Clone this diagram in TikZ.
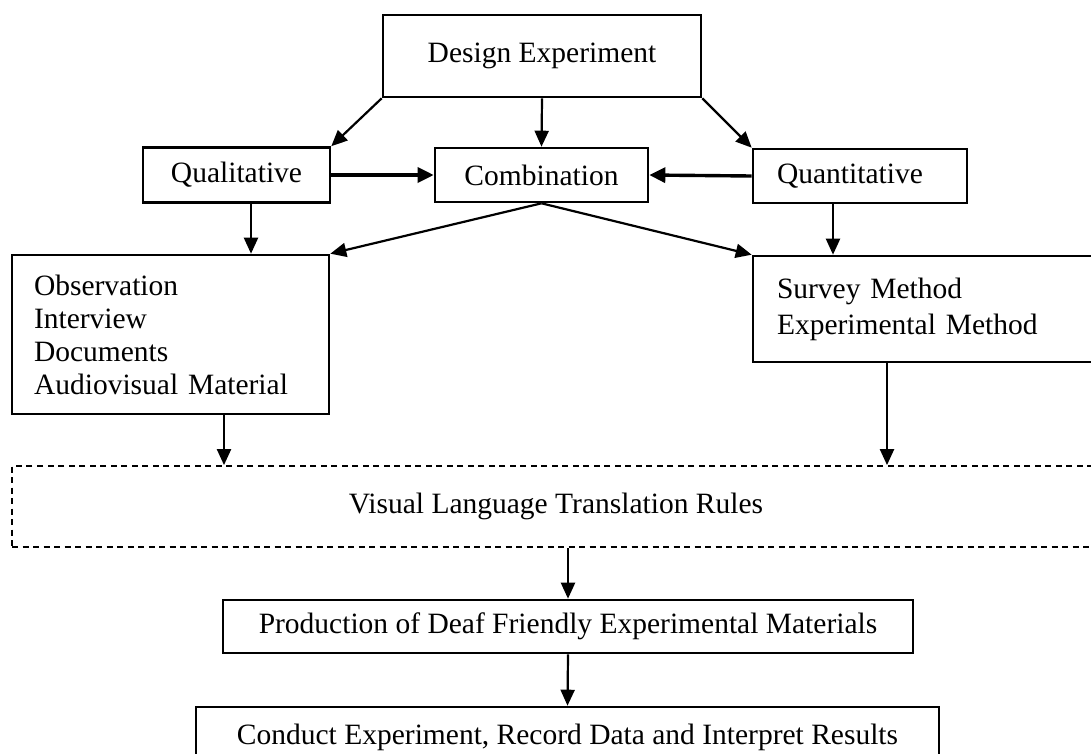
\documentclass[tikz,border=0pt]{standalone}
\usepackage{fontspec}
\setmainfont{Liberation Serif}
\usetikzlibrary{arrows.meta}
\begin{document}
\begin{tikzpicture}[x=1pt,y=-1pt,
  box/.style={draw, line width=2.6pt, inner sep=0pt, font=\fontsize{29.5}{33}\selectfont},
  leftbox/.style={box, align=left, inner xsep=#1},
  arr/.style={line width=2.2pt, -{Triangle[length=16pt,width=14pt]}},
  thickarr/.style={line width=3.4pt, -{Triangle[length=16pt,width=15pt]}},
  dashbox/.style={draw, line width=1.8pt, dash pattern=on 6pt off 4.5pt, inner sep=0pt, font=\fontsize{29.5}{33}\selectfont}]
\useasboundingbox (0,0) rectangle (1091,753);
\clip (0,0) rectangle (1091,753);

\node[box, minimum width=318, minimum height=82] (design) at (542,56) {Design Experiment};
\node[box, minimum width=187, minimum height=55] (qual) at (236.5,175) {Qualitative};
\node[box, minimum width=213, minimum height=54] (comb) at (541.5,175) {Combination};
\node[leftbox=24pt, text width=166pt, minimum width=214, minimum height=54] (quant) at (860,176) {Quantitative};

\node[leftbox=22pt, text width=273pt, minimum width=317, minimum height=159] (obs) at (170.5,334.5)
  {Observation\\Interview\\Documents\\Audiovisual Material};
\node[leftbox=24pt, text width=299pt, minimum width=347, minimum height=106, font=\fontsize{29.5}{36}\selectfont] (survey) at (926.5,309)
  {Survey Method\\Experimental Method};

\node[dashbox, minimum width=1088, minimum height=81] (rules) at (556,506.5) {Visual Language Translation Rules};
\node[box, minimum width=690, minimum height=53] (prod) at (568,626.5) {Production of Deaf Friendly Experimental Materials};
\node[box, minimum width=743, minimum height=60] (cond) at (567.5,737) {Conduct Experiment, Record Data and Interpret Results};

\coordinate (qo) at (251,202);
\coordinate (qs) at (833,203);
\coordinate (od) at (224,414);
\coordinate (sd) at (887,362);

\draw[arr] (design.south west) -- (qual.north east);
\draw[arr] (design.south) -- (comb.north);
\draw[arr] (design.south east) -- (quant.north west);
\draw[thickarr] (qual.east) -- (comb.west);
\draw[thickarr] (quant.west) -- (comb.east);
\draw[arr] (qo) -- (qo |- obs.north);
\draw[arr] (qs) -- (qs |- survey.north);
\draw[arr] (comb.south) -- (obs.north east);
\draw[arr] (comb.south) -- (survey.north west);
\draw[arr] (od) -- (od |- rules.north);
\draw[arr] (sd) -- (sd |- rules.north);
\draw[arr] (rules.south -| prod.north) -- (prod.north);
\draw[arr] (prod.south) -- (cond.north);
\end{tikzpicture}
\end{document}
